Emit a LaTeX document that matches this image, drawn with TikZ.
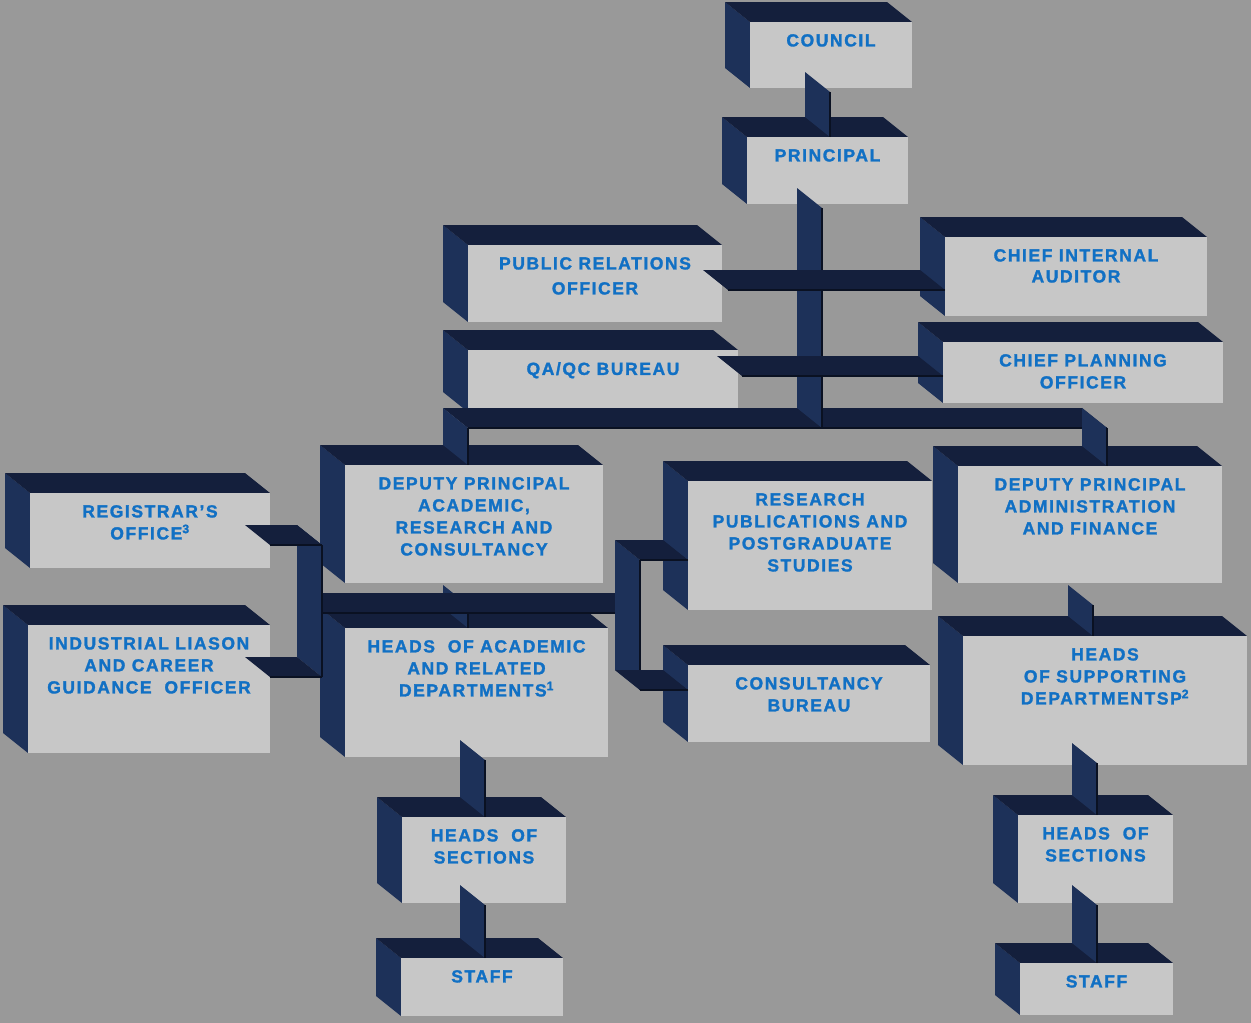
\documentclass[tikz,border=0pt]{standalone}
\usepackage{fontspec}
\newfontfamily\orgfont[LetterSpace=9,FakeBold=1.6]{Liberation Sans Bold}
\usetikzlibrary{positioning,calc}
\definecolor{bggray}{HTML}{999999}
\definecolor{frontgray}{HTML}{C7C7C7}
\definecolor{sidenavy}{HTML}{1D3159}
\definecolor{topnavy}{HTML}{141F3C}
\definecolor{rimnavy}{HTML}{0A1122}
\definecolor{txtblue}{HTML}{1170C4}

\begin{document}
\begin{tikzpicture}[x=1pt, y=-1pt,
  frontbox/.style={fill=frontgray, inner sep=0pt, outer sep=0pt},
  boxtext/.style={font=\orgfont\fontsize{17.5}{22}\selectfont, text=txtblue, align=center, inner sep=0pt},
  sideface/.style={fill=sidenavy},
  topface/.style={fill=topnavy},
  rimline/.style={draw=rimnavy, line width=1.2pt}]

  \newcommand\Dx{25}
  \newcommand\Dy{20}

  %% box: name, x1, y1, x2, y2 (front face), text
  \newcommand\orgbox[6]{
    \fill[sideface] (#2,#3) -- (#2,#5) -- ++(-\Dx,-\Dy) -- (#2-\Dx,#3-\Dy) -- cycle;
    \fill[topface] (#2,#3) -- (#4,#3) -- ++(-\Dx,-\Dy) -- (#2-\Dx,#3-\Dy) -- cycle;
    \node[frontbox, minimum width={(#4-#2)*1pt}, minimum height={(#5-#3)*1pt}] (#1) at ({(#2+#4)/2},{(#3+#5)/2}) {};
    \node[boxtext, below=12pt of #1.north] (#1-t) {#6};
  }
  %% vertical fin: [overlap], front x, upper end, lower end
  \newcommand\fin[4][4]{
    \fill[sideface] ($(#2,0 |- #3)+(0,#1)$) coordinate (f-a) -- (#2,0 |- #4) coordinate (f-b) -- ++(-\Dx,-\Dy) -- ($(f-a)+(-\Dx,-\Dy)$) -- cycle;
    \draw[rimline] (f-a) -- (f-b);
  }
  %% flat bar: front left end, front right end
  \newcommand\topbar[2]{
    \fill[topface] (#1) coordinate (b-a) -- (#2) coordinate (b-b) -- ++(-\Dx,-\Dy) -- ($(b-a)+(-\Dx,-\Dy)$) -- cycle;
    \draw[rimline] (b-a) -- (b-b);
  }

  \fill[bggray] (0,0) rectangle (1251,1023);
  \useasboundingbox (0,0) rectangle (1251,1023);

  \orgbox{council}{750}{22}{912}{88}{COUNCIL}
  \orgbox{principal}{747}{137}{908}{204}{PRINCIPAL}
  \orgbox{pro}{468}{245}{722}{322}{PUBLIC RELATIONS\\[3pt]OFFICER}
  \orgbox{qaqc}{468}{350}{738}{412}{QA/QC BUREAU}
  \orgbox{cia}{945}{237}{1207}{316}{CHIEF INTERNAL\\[-1pt]AUDITOR}
  \orgbox{cpo}{943}{342}{1223}{403}{CHIEF PLANNING\\OFFICER}
  \orgbox{dparc}{345}{465}{603}{583}{DEPUTY PRINCIPAL\\ACADEMIC,\\RESEARCH AND\\CONSULTANCY}
  \orgbox{dpaf}{958}{466}{1222}{583}{DEPUTY PRINCIPAL\\ADMINISTRATION\\AND FINANCE}
  \orgbox{registrar}{30}{493}{270}{568}{REGISTRAR’S\\OFFICE\textsuperscript{3}}
  \orgbox{liaison}{28}{625}{270}{753}{INDUSTRIAL LIASON\\AND CAREER\\GUIDANCE~ OFFICER}
  \orgbox{hoad}{345}{628}{608}{757}{HEADS~ OF ACADEMIC\\AND RELATED\\DEPARTMENTS\textsuperscript{1}}
  \orgbox{rpps}{688}{481}{932}{610}{RESEARCH\\PUBLICATIONS AND\\POSTGRADUATE\\STUDIES}
  \orgbox{consult}{688}{665}{930}{742}{CONSULTANCY\\BUREAU}
  \orgbox{hosd}{963}{636}{1247}{765}{HEADS\\OF SUPPORTING\\DEPARTMENTSP\textsuperscript{2}}
  \orgbox{hosl}{402}{817}{566}{903}{HEADS~ OF\\SECTIONS}
  \orgbox{staffl}{401}{958}{563}{1016}{STAFF}
  \orgbox{hosr}{1018}{815}{1173}{903}{HEADS~ OF\\SECTIONS}
  \orgbox{staffr}{1020}{963}{1173}{1015}{STAFF}

  \coordinate (hub) at (822,428);
  \coordinate (hubL) at (468,428);
  \coordinate (hubR) at (1107,428);
  \coordinate (proR) at (728,290);
  \coordinate (qaR) at (742,376);
  \coordinate (legT) at (322,545);
  \coordinate (legB) at (322,677);
  \coordinate (crossL) at (322,613);
  \coordinate (crossR) at (640,613);
  \coordinate (rlegT) at (640,560);
  \coordinate (rlegB) at (640,690);

  \fin{830}{council.south}{principal.north} %% council -> principal
  \fin[22]{468}{dparc.south}{hoad.north}
  \fin[22]{1093}{dpaf.south}{hosd.north}
  \fin[3]{485}{hoad.south}{hosl.north}
  \fin[2]{485}{hosl.south}{staffl.north}
  \fin[-2]{1097}{hosd.south}{hosr.north}
  \fin[2]{1097}{hosr.south}{staffr.north}

  % cross bar under the deputy principal
  \fill[topface] ($(crossL)+(0,-20)$) rectangle (crossR);
  \draw[rimline] (crossL) -- (crossR);
  \fin[0]{322}{legT}{legB}
  \fin[0]{640}{rlegT}{rlegB}
  \topbar{registrar.east |- legT}{legT}
  \topbar{liaison.east |- legB}{legB}
  \topbar{rlegT}{rpps.west |- rlegT}
  \topbar{rlegB}{consult.west |- rlegB}

  % main bar and trunk
  \topbar{hubL}{hubR}
  \fin[0]{468}{hubL}{dparc.north}
  \fin[0]{1107}{hubR}{dpaf.north}
  \fin{822}{principal.south}{hub}
  \topbar{proR}{cia.west |- proR}
  \topbar{qaR}{cpo.west |- qaR}

\end{tikzpicture}
\end{document}
